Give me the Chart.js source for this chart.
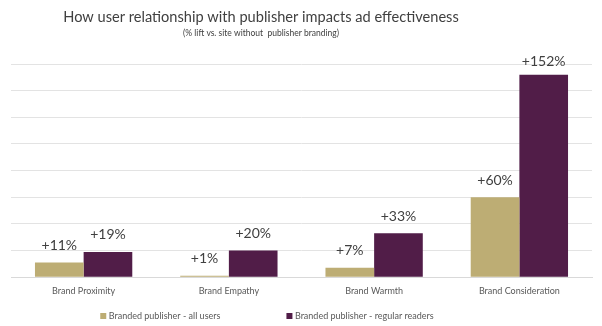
<!DOCTYPE html>
<html lang="en">
<head>
    <meta charset="UTF-8">
    <title>How user relationship with publisher impacts ad effectiveness</title>
    <script src="https://cdn.jsdelivr.net/npm/chart.js"></script>
    <style>
        html, body {
            margin: 0;
            padding: 0;
            background: #ffffff;
        }
        #wrap {
            width: 602px;
            height: 326px;
        }
    </style>
</head>
<body>
    <div id="wrap"><canvas id="adChart"></canvas></div>

    <script>
        const categories = ['Brand Proximity', 'Brand Empathy', 'Brand Warmth', 'Brand Consideration'];
        const seriesNames = ['Branded publisher - all users', 'Branded publisher - regular readers'];
        const allUsers = [11, 1, 7, 60];
        const regularReaders = [19, 20, 33, 152];
        const yTicks = [0, 20, 40, 60, 80, 100, 120, 140, 160];

        const titleText = 'How user relationship with publisher impacts ad effectiveness';
        const subtitleText = '(% lift vs. site without  publisher branding)';
        const FONT = 'Lato, "Open Sans", sans-serif';

        // value labels above each bar
        const valueLabels = {
            id: 'valueLabels',
            afterDatasetsDraw(chart) {
                const ctx = chart.ctx;
                ctx.save();
                ctx.font = '14px ' + FONT;
                ctx.fillStyle = '#404040';
                ctx.textAlign = 'center';
                ctx.textBaseline = 'middle';
                chart.data.datasets.forEach((ds, i) => {
                    const meta = chart.getDatasetMeta(i);
                    meta.data.forEach((bar, j) => {
                        const y = Math.max(bar.y - 17, 61);
                        ctx.fillText('+' + ds.data[j] + '%', bar.x, y);
                    });
                });
                ctx.restore();
            }
        };

        // title, subtitle and legend (centred a bit left of the canvas middle, as in the source)
        const headerAndLegend = {
            id: 'headerAndLegend',
            afterDraw(chart) {
                const ctx = chart.ctx;
                const cx = 261;
                ctx.save();
                ctx.fillStyle = '#404040';
                ctx.textAlign = 'center';
                ctx.textBaseline = 'middle';
                ctx.font = '14.6px ' + FONT;
                ctx.fillText(titleText, cx, 17);
                ctx.font = '8.5px ' + FONT;
                ctx.fillText(subtitleText, cx, 33);

                // legend
                ctx.font = '9px ' + FONT;
                ctx.textAlign = 'left';
                const box = 6, gap = 2.5, between = 66, ly = 316;
                const widths = chart.data.datasets.map(ds => box + gap + ctx.measureText(ds.label).width);
                const total = widths.reduce((a, b) => a + b, 0) + between;
                let x = 267 - total / 2;
                chart.data.datasets.forEach((ds, i) => {
                    ctx.fillStyle = ds.backgroundColor;
                    ctx.fillRect(x, ly - box / 2, box, box);
                    ctx.fillStyle = '#595959';
                    ctx.fillText(ds.label, x + box + gap, ly);
                    x += widths[i] + between;
                });
                ctx.restore();
            }
        };

        const ctx = document.getElementById('adChart').getContext('2d');
        new Chart(ctx, {
            type: 'bar',
            data: {
                labels: categories,
                datasets: [
                    {
                        label: seriesNames[0],
                        data: allUsers,
                        backgroundColor: '#bdad74'
                    },
                    {
                        label: seriesNames[1],
                        data: regularReaders,
                        backgroundColor: '#511d48'
                    }
                ]
            },
            options: {
                responsive: true,
                maintainAspectRatio: false,
                animation: false,
                layout: {
                    padding: { left: 11, right: 10, top: 64, bottom: 22 }
                },
                datasets: {
                    bar: {
                        categoryPercentage: 0.67,
                        barPercentage: 1.0
                    }
                },
                plugins: {
                    legend: { display: false },
                    title: { display: false },
                    tooltip: { enabled: false }
                },
                scales: {
                    x: {
                        grid: { display: false, drawTicks: false },
                        border: { display: true, color: '#d9d9d9', width: 1 },
                        ticks: {
                            padding: 8,
                            color: '#595959',
                            font: { family: FONT, size: 9 }
                        }
                    },
                    y: {
                        min: yTicks[0],
                        max: yTicks[yTicks.length - 1],
                        afterBuildTicks(scale) {
                            scale.ticks = yTicks.map(v => ({ value: v }));
                        },
                        grid: { color: '#e3e3e3', drawTicks: false },
                        border: { display: false },
                        ticks: { display: false }
                    }
                }
            },
            plugins: [valueLabels, headerAndLegend]
        });
    </script>
</body>
</html>
